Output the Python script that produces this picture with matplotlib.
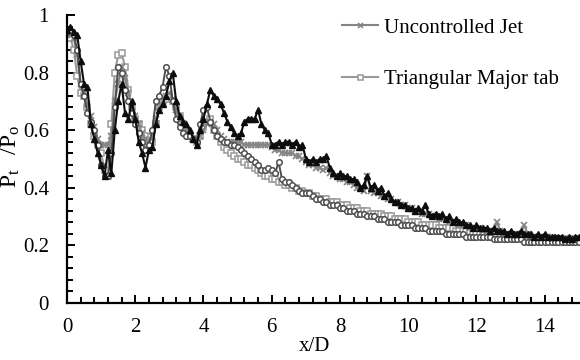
import numpy as np
import matplotlib
matplotlib.use("Agg")
import matplotlib.pyplot as plt
from matplotlib.ticker import MultipleLocator, FormatStrFormatter

plt.rcParams['font.family'] = ['Liberation Serif', 'DejaVu Serif']
plt.rcParams['mathtext.fontset'] = 'custom'
plt.rcParams['mathtext.rm'] = 'Liberation Serif'

# x/D stations, every 0.1 from 0 to 15
xd = np.linspace(0, 15, 151)

# black line, triangles
tri = [0.95, 0.96, 0.94, 0.93, 0.84, 0.76, 0.75, 0.62, 0.57, 0.52,
       0.48, 0.44, 0.53, 0.45, 0.60, 0.70, 0.76, 0.66, 0.64, 0.70,
       0.64, 0.56, 0.52, 0.47, 0.53, 0.54, 0.62, 0.67, 0.69, 0.72,
       0.77, 0.80, 0.70, 0.65, 0.63, 0.62, 0.60, 0.57, 0.55, 0.60,
       0.64, 0.69, 0.74, 0.72, 0.71, 0.69, 0.66, 0.63, 0.61, 0.59,
       0.58, 0.59, 0.63, 0.64, 0.64, 0.64, 0.67, 0.62, 0.60, 0.59,
       0.55, 0.55, 0.56, 0.55, 0.56, 0.56, 0.55, 0.56, 0.54, 0.55,
       0.50, 0.49, 0.50, 0.49, 0.50, 0.50, 0.51, 0.47, 0.45, 0.44,
       0.45, 0.44, 0.44, 0.43, 0.43, 0.42, 0.40, 0.41, 0.44, 0.40,
       0.41, 0.39, 0.40, 0.37, 0.38, 0.36, 0.35, 0.35, 0.34, 0.34,
       0.33, 0.33, 0.32, 0.33, 0.32, 0.34, 0.31, 0.30, 0.31, 0.30,
       0.31, 0.29, 0.30, 0.28, 0.29, 0.28, 0.28, 0.27, 0.27, 0.26,
       0.27, 0.26, 0.26, 0.26, 0.25, 0.26, 0.25, 0.25, 0.25, 0.24,
       0.25, 0.24, 0.24, 0.25, 0.24, 0.24, 0.24, 0.23, 0.24, 0.23,
       0.24, 0.23, 0.23, 0.23, 0.23, 0.23, 0.22, 0.23, 0.22, 0.23,
       0.23]

# dark grey line, circles
circ = [0.94, 0.95, 0.93, 0.88, 0.76, 0.72, 0.66, 0.63, 0.60, 0.55,
        0.48, 0.44, 0.44, 0.52, 0.68, 0.82, 0.80, 0.74, 0.70, 0.66,
        0.62, 0.59, 0.56, 0.53, 0.55, 0.60, 0.70, 0.72, 0.75, 0.82,
        0.79, 0.70, 0.64, 0.61, 0.59, 0.58, 0.58, 0.57, 0.56, 0.62,
        0.67, 0.68, 0.63, 0.60, 0.58, 0.57, 0.56, 0.56, 0.55, 0.55,
        0.54, 0.53, 0.52, 0.51, 0.50, 0.49, 0.48, 0.46, 0.46, 0.47,
        0.46, 0.45, 0.49, 0.43, 0.42, 0.42, 0.41, 0.40, 0.39, 0.38,
        0.38, 0.38, 0.37, 0.36, 0.36, 0.35, 0.35, 0.34, 0.34, 0.34,
        0.33, 0.33, 0.32, 0.32, 0.32, 0.31, 0.31, 0.31, 0.30, 0.30,
        0.30, 0.29, 0.29, 0.29, 0.28, 0.28, 0.28, 0.28, 0.27, 0.27,
        0.27, 0.27, 0.26, 0.26, 0.26, 0.26, 0.25, 0.25, 0.25, 0.25,
        0.25, 0.24, 0.24, 0.24, 0.24, 0.24, 0.24, 0.23, 0.23, 0.23,
        0.23, 0.23, 0.23, 0.23, 0.23, 0.22, 0.22, 0.22, 0.22, 0.22,
        0.22, 0.22, 0.22, 0.22, 0.21, 0.21, 0.21, 0.21, 0.21, 0.21,
        0.21, 0.21, 0.21, 0.21, 0.21, 0.21, 0.21, 0.21, 0.21, 0.21,
        0.21]

# Uncontrolled Jet, x markers
unc = [0.93, 0.93, 0.92, 0.86, 0.76, 0.73, 0.69, 0.65, 0.61, 0.57,
       0.55, 0.55, 0.55, 0.58, 0.70, 0.76, 0.82, 0.78, 0.73, 0.68,
       0.65, 0.62, 0.59, 0.57, 0.56, 0.58, 0.64, 0.68, 0.70, 0.72,
       0.73, 0.71, 0.67, 0.64, 0.62, 0.60, 0.58, 0.57, 0.57, 0.58,
       0.60, 0.62, 0.63, 0.62, 0.60, 0.58, 0.57, 0.56, 0.56, 0.56,
       0.56, 0.56, 0.55, 0.55, 0.55, 0.55, 0.55, 0.55, 0.55, 0.55,
       0.54, 0.53, 0.53, 0.52, 0.52, 0.52, 0.52, 0.51, 0.51, 0.50,
       0.49, 0.48, 0.48, 0.47, 0.47, 0.46, 0.47, 0.45, 0.44, 0.44,
       0.43, 0.43, 0.42, 0.42, 0.41, 0.40, 0.40, 0.39, 0.44, 0.39,
       0.38, 0.38, 0.37, 0.37, 0.36, 0.36, 0.35, 0.35, 0.34, 0.34,
       0.33, 0.33, 0.32, 0.32, 0.31, 0.31, 0.31, 0.30, 0.30, 0.29,
       0.29, 0.29, 0.28, 0.28, 0.28, 0.27, 0.27, 0.27, 0.26, 0.26,
       0.26, 0.26, 0.25, 0.25, 0.25, 0.25, 0.28, 0.25, 0.24, 0.24,
       0.24, 0.24, 0.24, 0.24, 0.27, 0.24, 0.23, 0.23, 0.23, 0.23,
       0.23, 0.23, 0.23, 0.22, 0.22, 0.22, 0.22, 0.22, 0.22, 0.22,
       0.22]

# Triangular Major tab, squares
tmt = [0.93, 0.92, 0.88, 0.79, 0.73, 0.72, 0.68, 0.62, 0.58, 0.55,
       0.52, 0.46, 0.44, 0.62, 0.80, 0.86, 0.87, 0.82, 0.74, 0.68,
       0.64, 0.62, 0.60, 0.58, 0.55, 0.56, 0.62, 0.68, 0.70, 0.71,
       0.72, 0.70, 0.68, 0.65, 0.62, 0.60, 0.58, 0.57, 0.56, 0.58,
       0.61, 0.63, 0.64, 0.60, 0.58, 0.56, 0.54, 0.53, 0.52, 0.51,
       0.50, 0.50, 0.49, 0.48, 0.48, 0.47, 0.46, 0.45, 0.44, 0.44,
       0.43, 0.43, 0.42, 0.42, 0.41, 0.41, 0.40, 0.40, 0.39, 0.39,
       0.38, 0.38, 0.37, 0.37, 0.36, 0.36, 0.36, 0.35, 0.35, 0.35,
       0.34, 0.34, 0.34, 0.33, 0.33, 0.33, 0.32, 0.32, 0.32, 0.31,
       0.31, 0.31, 0.31, 0.30, 0.30, 0.30, 0.29, 0.29, 0.29, 0.29,
       0.28, 0.28, 0.28, 0.28, 0.27, 0.27, 0.27, 0.27, 0.27, 0.26,
       0.26, 0.26, 0.26, 0.26, 0.25, 0.25, 0.25, 0.25, 0.25, 0.24,
       0.24, 0.24, 0.24, 0.24, 0.24, 0.24, 0.23, 0.23, 0.23, 0.23,
       0.23, 0.23, 0.23, 0.23, 0.22, 0.22, 0.22, 0.22, 0.22, 0.22,
       0.22, 0.22, 0.22, 0.22, 0.22, 0.22, 0.22, 0.21, 0.22, 0.22,
       0.22]

fig = plt.figure(figsize=(5.8, 3.6), dpi=100)
ax = fig.add_axes([0.1155, 0.159, 0.8825, 0.799])

h_tmt, = ax.plot(xd, tmt, color='#999999', lw=1.5, marker='s', ms=4,
                 mfc='white', mec='#999999', mew=1.1,
                 label='Triangular Major tab')
h_unc, = ax.plot(xd, unc, color='#848484', lw=1.5, marker='x', ms=4,
                 mew=1.2, label='Uncontrolled Jet')
ax.plot(xd, circ, color='#4d4d4d', lw=1.4, marker='o', ms=4,
        mfc='white', mec='#4d4d4d', mew=1.1)
ax.plot(xd, tri, color='#0d0d0d', lw=1.5, marker='^', ms=4.2,
        mfc='#0d0d0d', mec='#0d0d0d')

ax.set_xlim(0, 15)
ax.set_ylim(0, 1)
ax.xaxis.set_major_locator(MultipleLocator(2))
ax.xaxis.set_minor_locator(MultipleLocator(0.4))
ax.yaxis.set_major_locator(MultipleLocator(0.2))
ax.yaxis.set_minor_locator(MultipleLocator(0.04))
ax.yaxis.set_major_formatter(FormatStrFormatter('%g'))

for s in ['top', 'right']:
    ax.spines[s].set_visible(False)
for s in ['left', 'bottom']:
    ax.spines[s].set_linewidth(1.6)

ax.tick_params(which='both', direction='in', width=1.4, labelsize=15)
ax.tick_params(which='major', length=6)
ax.tick_params(which='minor', length=4)
ax.tick_params(axis='x', which='major', pad=11)
ax.tick_params(axis='y', which='major', pad=13)

ax.set_xlabel('x/D', fontsize=15)
ax.xaxis.set_label_coords(0.484, -0.118)
ax.set_ylabel(r'$\mathregular{P_{t}\ \ /P_{o}}$', fontsize=17)
ax.yaxis.set_label_coords(-0.087, 0.51)

ax.legend(handles=[h_unc, h_tmt], loc='upper left',
          bbox_to_anchor=(0.59, 0.95), bbox_transform=fig.transFigure,
          frameon=False, fontsize=15, handlelength=1.7, handletextpad=0.3,
          labelspacing=1.55, borderpad=0, borderaxespad=0, markerscale=0.9)

fig.savefig('out.png', dpi=100)
